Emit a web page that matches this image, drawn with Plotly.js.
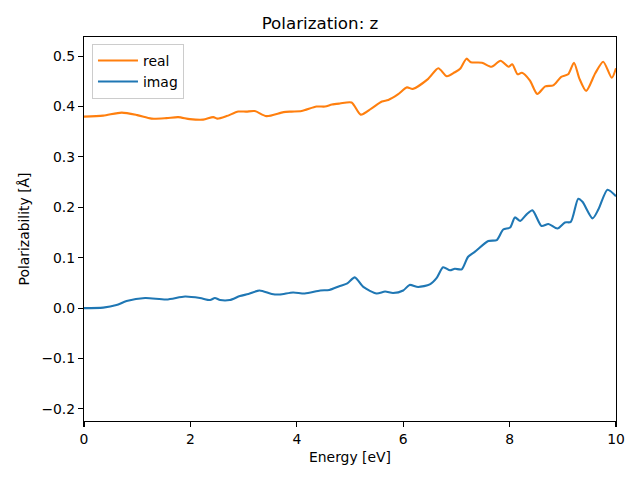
<!DOCTYPE html>
<html>
<head>
<meta charset="utf-8">
<script src="https://cdn.plot.ly/plotly-3.0.1.min.js"></script>
<style>html,body{margin:0;padding:0;background:#fff;}#chart{width:640px;height:480px;}</style>
</head>
<body>
<div id="chart"></div>
<script>
const realE = [0, 0.36, 0.71, 1.0, 1.27, 1.55, 1.77, 1.99, 2.24, 2.43, 2.51, 2.68, 2.90, 3.05, 3.21, 3.43, 3.75, 3.90, 4.09, 4.37, 4.53, 4.66, 4.81, 5.03, 5.20, 5.40, 5.60, 5.72, 5.90, 6.07, 6.18, 6.47, 6.66, 6.82, 6.97, 7.07, 7.19, 7.27, 7.48, 7.66, 7.83, 7.98, 8.05, 8.15, 8.23, 8.38, 8.52, 8.67, 8.82, 8.97, 9.10, 9.21, 9.31, 9.44, 9.61, 9.76, 9.92, 10.0];
const realV = [0.380, 0.382, 0.388, 0.383, 0.376, 0.377, 0.379, 0.375, 0.374, 0.379, 0.376, 0.381, 0.390, 0.390, 0.391, 0.381, 0.389, 0.390, 0.391, 0.400, 0.400, 0.404, 0.406, 0.408, 0.384, 0.396, 0.410, 0.413, 0.424, 0.438, 0.435, 0.455, 0.476, 0.460, 0.468, 0.475, 0.495, 0.488, 0.487, 0.479, 0.491, 0.479, 0.484, 0.464, 0.467, 0.452, 0.425, 0.440, 0.442, 0.459, 0.464, 0.487, 0.456, 0.431, 0.466, 0.489, 0.457, 0.476];
const imagE = [0, 0.36, 0.61, 0.80, 1.15, 1.55, 1.90, 2.18, 2.37, 2.46, 2.56, 2.74, 2.93, 3.09, 3.30, 3.53, 3.68, 3.93, 4.15, 4.44, 4.61, 4.81, 4.95, 5.09, 5.25, 5.50, 5.66, 5.81, 6.00, 6.12, 6.28, 6.50, 6.63, 6.75, 6.88, 6.97, 7.10, 7.22, 7.35, 7.60, 7.76, 7.88, 8.01, 8.10, 8.20, 8.32, 8.43, 8.60, 8.73, 8.90, 9.04, 9.15, 9.29, 9.37, 9.56, 9.67, 9.84, 10.0];
const imagV = [0.000, 0.001, 0.006, 0.014, 0.020, 0.017, 0.023, 0.020, 0.016, 0.020, 0.016, 0.016, 0.024, 0.028, 0.035, 0.028, 0.027, 0.031, 0.029, 0.035, 0.036, 0.044, 0.049, 0.061, 0.042, 0.029, 0.033, 0.030, 0.035, 0.046, 0.042, 0.047, 0.060, 0.081, 0.075, 0.078, 0.077, 0.102, 0.112, 0.133, 0.135, 0.156, 0.160, 0.180, 0.173, 0.186, 0.194, 0.163, 0.167, 0.158, 0.170, 0.171, 0.217, 0.211, 0.178, 0.196, 0.235, 0.222];
const seriesNames = ['real', 'imag'];
const xTicks = [0, 2, 4, 6, 8, 10];
const yTicks = [-0.2, -0.1, 0.0, 0.1, 0.2, 0.3, 0.4, 0.5];

const font = {family: 'DejaVu Sans, sans-serif', size: 13.9, color: '#000'};
const traces = [
  {x: realE, y: realV, name: seriesNames[0], type: 'scatter', mode: 'lines',
   line: {color: '#ff7f0e', width: 2.1, shape: 'spline', smoothing: 0.7}},
  {x: imagE, y: imagV, name: seriesNames[1], type: 'scatter', mode: 'lines',
   line: {color: '#1f77b4', width: 2.1, shape: 'spline', smoothing: 0.7}}
];
const axisCommon = {
  showgrid: false, zeroline: false, showline: true, mirror: true,
  linecolor: '#000', linewidth: 1.1, ticks: 'outside', ticklen: 5,
  tickwidth: 1.1, tickcolor: '#000', tickfont: font
};
const layout = {
  width: 640, height: 480,
  margin: {l: 84, r: 24, t: 37, b: 59},
  paper_bgcolor: '#fff', plot_bgcolor: '#fff',
  font: font,
  title: {text: 'Polarization: z', font: {family: font.family, size: 16.7, color: '#000'},
          x: 0.5, xanchor: 'center', y: 1 - 23/480, yanchor: 'middle'},
  xaxis: Object.assign({}, axisCommon, {
    range: [0, 10], tickvals: xTicks, ticktext: xTicks.map(String),
    title: {text: 'Energy [eV]', font: font, standoff: 6}
  }),
  yaxis: Object.assign({}, axisCommon, {
    range: [-0.224, 0.538], tickvals: yTicks,
    ticktext: yTicks.map(v => (v < 0 ? '\u2212' : '') + Math.abs(v).toFixed(1)),
    title: {text: 'Polarizability [Å]', font: font, standoff: 8}
  }),
  showlegend: true,
  legend: {x: 0.015, y: 0.982, xanchor: 'left', yanchor: 'top',
           bgcolor: 'rgba(255,255,255,0.8)', bordercolor: '#cccccc', borderwidth: 1,
           font: font, tracegroupgap: 0, itemwidth: 40}
};
Plotly.newPlot('chart', traces, layout, {staticPlot: true, displayModeBar: false});
</script>
</body>
</html>
